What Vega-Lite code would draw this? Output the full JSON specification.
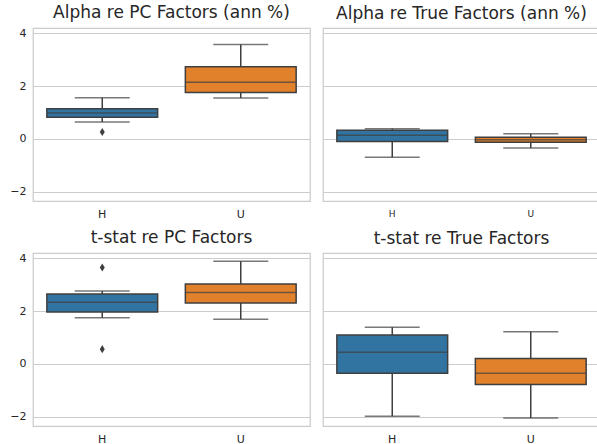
{
  "$schema": "https://vega.github.io/schema/vega-lite/v6.json",
  "padding": {"left": 9, "top": 3, "right": 0, "bottom": 0},
  "background": "white",
  "datasets": {
    "boxes": [
      {"panel": "Alpha re PC Factors (ann %)", "group": "H", "lower": 0.64, "q1": 0.82, "median": 0.98, "q3": 1.14, "upper": 1.56},
      {"panel": "Alpha re PC Factors (ann %)", "group": "U", "lower": 1.55, "q1": 1.76, "median": 2.15, "q3": 2.73, "upper": 3.58},
      {"panel": "Alpha re True Factors (ann %)", "group": "H", "lower": -0.69, "q1": -0.10, "median": 0.14, "q3": 0.33, "upper": 0.39},
      {"panel": "Alpha re True Factors (ann %)", "group": "U", "lower": -0.34, "q1": -0.13, "median": -0.03, "q3": 0.06, "upper": 0.20},
      {"panel": "t-stat re PC Factors", "group": "H", "lower": 1.75, "q1": 1.97, "median": 2.34, "q3": 2.65, "upper": 2.76},
      {"panel": "t-stat re PC Factors", "group": "U", "lower": 1.69, "q1": 2.31, "median": 2.70, "q3": 3.03, "upper": 3.89},
      {"panel": "t-stat re True Factors", "group": "H", "lower": -1.98, "q1": -0.35, "median": 0.44, "q3": 1.10, "upper": 1.39},
      {"panel": "t-stat re True Factors", "group": "U", "lower": -2.05, "q1": -0.78, "median": -0.35, "q3": 0.21, "upper": 1.22}
    ],
    "outliers": [
      {"panel": "Alpha re PC Factors (ann %)", "group": "H", "value": 0.26},
      {"panel": "t-stat re PC Factors", "group": "H", "value": 3.65},
      {"panel": "t-stat re PC Factors", "group": "H", "value": 0.56}
    ]
  },
  "config": {
    "font": "DejaVu Sans",
    "view": {"stroke": "#cccccc", "strokeWidth": 1.25},
    "title": {"fontSize": 17, "fontWeight": "normal", "color": "#262626", "offset": 5},
    "axis": {"labelColor": "#262626", "labelFont": "DejaVu Sans", "labelFontSize": 11, "ticks": false, "domain": false, "gridColor": "#cccccc", "gridWidth": 1, "title": null},
    "concat": {"spacing": 11}
  },
  "spacing": 8,
  "vconcat": [
    {
      "hconcat": [
        {
          "title": "Alpha re PC Factors (ann %)",
          "width": 277, "height": 173,
          "layer": [
            {"data": {"name": "boxes"}, "transform": [{"filter": "datum.panel === 'Alpha re PC Factors (ann %)'"}],
             "layer": [
              {"mark": {"type": "rule", "color": "#3f3f3f", "strokeWidth": 1.5}, "encoding": {"y": {"field": "lower", "type": "quantitative"}, "y2": {"field": "upper"}}},
              {"mark": {"type": "tick", "color": "#3f3f3f", "thickness": 1.5, "size": 55, "orient": "horizontal"}, "encoding": {"y": {"field": "lower", "type": "quantitative"}}},
              {"mark": {"type": "tick", "color": "#3f3f3f", "thickness": 1.5, "size": 55, "orient": "horizontal"}, "encoding": {"y": {"field": "upper", "type": "quantitative"}}},
              {"mark": {"type": "bar", "stroke": "#3f3f3f", "strokeWidth": 1.5, "width": {"band": 0.8}, "opacity": 1}, "encoding": {"y": {"field": "q1", "type": "quantitative"}, "y2": {"field": "q3"}, "color": {"field": "group", "type": "nominal", "scale": {"domain": ["H", "U"], "range": ["#3274a1", "#e1812c"]}, "legend": null}}},
              {"mark": {"type": "tick", "color": "#3f3f3f", "thickness": 1.5, "size": 110, "orient": "horizontal"}, "encoding": {"y": {"field": "median", "type": "quantitative"}}}
             ],
             "encoding": {"x": {"field": "group", "type": "nominal", "scale": {"domain": ["H", "U"], "paddingInner": 0, "paddingOuter": 0}, "axis": {"labelAngle": 0, "labelPadding": 7, "grid": false}}}
            },
            {"data": {"name": "outliers"}, "transform": [{"filter": "datum.panel === 'Alpha re PC Factors (ann %)'"}],
             "mark": {"type": "point", "shape": "M0,-1L0.62,0L0,1L-0.62,0Z", "filled": true, "color": "#3f3f3f", "opacity": 1, "size": 65},
             "encoding": {"x": {"field": "group", "type": "nominal"}, "y": {"field": "value", "type": "quantitative"}}}
          ],
          "encoding": {"y": {"type": "quantitative", "scale": {"domain": [-2.35, 4.2], "nice": false, "zero": false}, "axis": {"values": [-2, 0, 2, 4], "labelPadding": 7, "grid": true, "labelExpr": "replace(datum.label, '-', '−')"}}}
        },
        {
          "title": "Alpha re True Factors (ann %)",
          "width": 277, "height": 173,
          "layer": [
            {"data": {"name": "boxes"}, "transform": [{"filter": "datum.panel === 'Alpha re True Factors (ann %)'"}],
             "layer": [
              {"mark": {"type": "rule", "color": "#3f3f3f", "strokeWidth": 1.5}, "encoding": {"y": {"field": "lower", "type": "quantitative"}, "y2": {"field": "upper"}}},
              {"mark": {"type": "tick", "color": "#3f3f3f", "thickness": 1.5, "size": 55, "orient": "horizontal"}, "encoding": {"y": {"field": "lower", "type": "quantitative"}}},
              {"mark": {"type": "tick", "color": "#3f3f3f", "thickness": 1.5, "size": 55, "orient": "horizontal"}, "encoding": {"y": {"field": "upper", "type": "quantitative"}}},
              {"mark": {"type": "bar", "stroke": "#3f3f3f", "strokeWidth": 1.5, "width": {"band": 0.8}, "opacity": 1}, "encoding": {"y": {"field": "q1", "type": "quantitative"}, "y2": {"field": "q3"}, "color": {"field": "group", "type": "nominal", "scale": {"domain": ["H", "U"], "range": ["#3274a1", "#e1812c"]}, "legend": null}}},
              {"mark": {"type": "tick", "color": "#3f3f3f", "thickness": 1.5, "size": 110, "orient": "horizontal"}, "encoding": {"y": {"field": "median", "type": "quantitative"}}}
             ],
             "encoding": {"x": {"field": "group", "type": "nominal", "scale": {"domain": ["H", "U"], "paddingInner": 0, "paddingOuter": 0}, "axis": {"labelAngle": 0, "labelPadding": 8, "labelFontSize": 9, "grid": false}}}
            }
          ],
          "encoding": {"y": {"type": "quantitative", "scale": {"domain": [-2.35, 4.2], "nice": false, "zero": false}, "axis": {"values": [-2, 0, 2, 4], "labels": false, "grid": true}}}
        }
      ]
    },
    {
      "hconcat": [
        {
          "title": "t-stat re PC Factors",
          "width": 277, "height": 173,
          "layer": [
            {"data": {"name": "boxes"}, "transform": [{"filter": "datum.panel === 't-stat re PC Factors'"}],
             "layer": [
              {"mark": {"type": "rule", "color": "#3f3f3f", "strokeWidth": 1.5}, "encoding": {"y": {"field": "lower", "type": "quantitative"}, "y2": {"field": "upper"}}},
              {"mark": {"type": "tick", "color": "#3f3f3f", "thickness": 1.5, "size": 55, "orient": "horizontal"}, "encoding": {"y": {"field": "lower", "type": "quantitative"}}},
              {"mark": {"type": "tick", "color": "#3f3f3f", "thickness": 1.5, "size": 55, "orient": "horizontal"}, "encoding": {"y": {"field": "upper", "type": "quantitative"}}},
              {"mark": {"type": "bar", "stroke": "#3f3f3f", "strokeWidth": 1.5, "width": {"band": 0.8}, "opacity": 1}, "encoding": {"y": {"field": "q1", "type": "quantitative"}, "y2": {"field": "q3"}, "color": {"field": "group", "type": "nominal", "scale": {"domain": ["H", "U"], "range": ["#3274a1", "#e1812c"]}, "legend": null}}},
              {"mark": {"type": "tick", "color": "#3f3f3f", "thickness": 1.5, "size": 110, "orient": "horizontal"}, "encoding": {"y": {"field": "median", "type": "quantitative"}}}
             ],
             "encoding": {"x": {"field": "group", "type": "nominal", "scale": {"domain": ["H", "U"], "paddingInner": 0, "paddingOuter": 0}, "axis": {"labelAngle": 0, "labelPadding": 7, "grid": false}}}
            },
            {"data": {"name": "outliers"}, "transform": [{"filter": "datum.panel === 't-stat re PC Factors'"}],
             "mark": {"type": "point", "shape": "M0,-1L0.62,0L0,1L-0.62,0Z", "filled": true, "color": "#3f3f3f", "opacity": 1, "size": 65},
             "encoding": {"x": {"field": "group", "type": "nominal"}, "y": {"field": "value", "type": "quantitative"}}}
          ],
          "encoding": {"y": {"type": "quantitative", "scale": {"domain": [-2.35, 4.2], "nice": false, "zero": false}, "axis": {"values": [-2, 0, 2, 4], "labelPadding": 7, "grid": true, "labelExpr": "replace(datum.label, '-', '−')"}}}
        },
        {
          "title": "t-stat re True Factors",
          "width": 277, "height": 173,
          "layer": [
            {"data": {"name": "boxes"}, "transform": [{"filter": "datum.panel === 't-stat re True Factors'"}],
             "layer": [
              {"mark": {"type": "rule", "color": "#3f3f3f", "strokeWidth": 1.5}, "encoding": {"y": {"field": "lower", "type": "quantitative"}, "y2": {"field": "upper"}}},
              {"mark": {"type": "tick", "color": "#3f3f3f", "thickness": 1.5, "size": 55, "orient": "horizontal"}, "encoding": {"y": {"field": "lower", "type": "quantitative"}}},
              {"mark": {"type": "tick", "color": "#3f3f3f", "thickness": 1.5, "size": 55, "orient": "horizontal"}, "encoding": {"y": {"field": "upper", "type": "quantitative"}}},
              {"mark": {"type": "bar", "stroke": "#3f3f3f", "strokeWidth": 1.5, "width": {"band": 0.8}, "opacity": 1}, "encoding": {"y": {"field": "q1", "type": "quantitative"}, "y2": {"field": "q3"}, "color": {"field": "group", "type": "nominal", "scale": {"domain": ["H", "U"], "range": ["#3274a1", "#e1812c"]}, "legend": null}}},
              {"mark": {"type": "tick", "color": "#3f3f3f", "thickness": 1.5, "size": 110, "orient": "horizontal"}, "encoding": {"y": {"field": "median", "type": "quantitative"}}}
             ],
             "encoding": {"x": {"field": "group", "type": "nominal", "scale": {"domain": ["H", "U"], "paddingInner": 0, "paddingOuter": 0}, "axis": {"labelAngle": 0, "labelPadding": 7, "grid": false}}}
            }
          ],
          "encoding": {"y": {"type": "quantitative", "scale": {"domain": [-2.35, 4.2], "nice": false, "zero": false}, "axis": {"values": [-2, 0, 2, 4], "labels": false, "grid": true}}}
        }
      ]
    }
  ]
}
